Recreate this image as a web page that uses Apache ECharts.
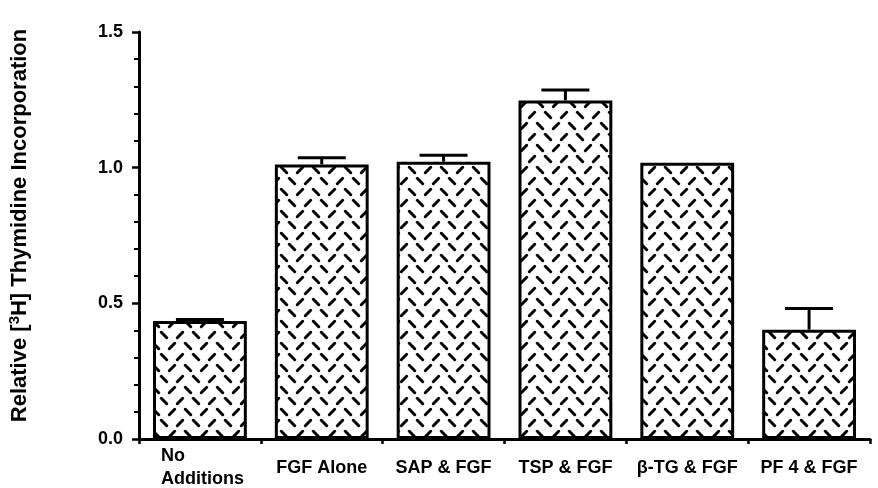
<!DOCTYPE html>
<html><head><meta charset="utf-8">
<script src="https://cdn.jsdelivr.net/npm/echarts@6/dist/echarts.min.js"></script>
<style>html,body{margin:0;padding:0;background:#fff}#c{width:878px;height:488px}</style>
</head><body><div id="c"></div>
<script>
const categories = ['No\nAdditions', 'FGF Alone', 'SAP & FGF', 'TSP & FGF', 'β-TG & FGF', 'PF 4 & FGF'];
const values = [0.435, 1.012, 1.022, 1.248, 1.018, 0.403];
const errors = [0.005, 0.025, 0.024, 0.038, 0, 0.078];
const yTicks = [0.0, 0.5, 1.0, 1.5];

function makePattern() {
  const W = 32, H = 22;
  const c = document.createElement('canvas');
  c.width = W; c.height = H;
  const g = c.getContext('2d');
  g.fillStyle = '#fff'; g.fillRect(0, 0, W, H);
  g.strokeStyle = '#000'; g.lineWidth = 3; g.lineCap = 'round';
  function dash(cx, cy, dir) {
    const d = 2.7;
    for (const ox of [-W, 0, W]) for (const oy of [-H, 0, H]) {
      g.beginPath();
      if (dir > 0) { g.moveTo(cx + ox - d, cy + oy + d); g.lineTo(cx + ox + d, cy + oy - d); }
      else { g.moveTo(cx + ox - d, cy + oy - d); g.lineTo(cx + ox + d, cy + oy + d); }
      g.stroke();
    }
  }
  dash(4, 5, -1);
  dash(20, 5, 1);
  dash(12, 16, 1);
  dash(28, 16, -1);
  return c;
}

const chart = echarts.init(document.getElementById('c'));
const pattern = makePattern();
const FONT = '"Liberation Sans", Arial, sans-serif';

chart.setOption({
  animation: false,
  grid: { left: 139, right: 8, top: 32, bottom: 49, outerBoundsMode: 'none', containLabel: false },
  xAxis: {
    type: 'category',
    data: categories.map((c, i) => i === 0 ? { value: c, textStyle: { align: 'left', padding: [-14, 0, 0, -39], lineHeight: 23, verticalAlign: 'top' } } : c),
    axisLine: { lineStyle: { color: '#000', width: 3 } },
    axisTick: { show: true, length: 5, inside: false, lineStyle: { color: '#000', width: 2.5 } },
    axisLabel: { color: '#000', fontFamily: FONT, fontWeight: 'bold', fontSize: 18, margin: 20, interval: 0 }
  },
  yAxis: {
    type: 'value', min: 0, max: 1.5, interval: 0.5,
    axisLine: { show: true, lineStyle: { color: '#000', width: 3 } },
    axisTick: { show: true, length: 7, lineStyle: { color: '#000', width: 2.5 } },
    minorTick: { show: true, splitNumber: 5, length: 5, lineStyle: { color: '#000', width: 2 } },
    splitLine: { show: false },
    axisLabel: { color: '#000', fontFamily: FONT, fontWeight: 'bold', fontSize: 18, margin: 16,
      formatter: v => { const t = yTicks.find(x => Math.abs(x - v) < 1e-9); return (t === undefined ? v : t).toFixed(1); } },
    name: 'Relative [{s|3}H] Thymidine Incorporation',
    nameLocation: 'middle', nameGap: 107, nameRotate: 90,
    nameTextStyle: { color: '#000', fontFamily: FONT, fontWeight: 'bold', fontSize: 22, padding: [0, 0, 0, 20],
      rich: { s: { fontSize: 15, fontWeight: 'bold', fontFamily: FONT, color: '#000', verticalAlign: 'top', padding: [0, 0, 10, 0] } } }
  },
  series: [
    {
      type: 'bar', data: values, barWidth: '77%',
      itemStyle: { color: { image: pattern, repeat: 'repeat' }, borderColor: '#000', borderWidth: 3 }
    },
    {
      type: 'custom',
      data: values.map((v, i) => [i, v, errors[i]]),
      z: 1,
      renderItem: (params, api) => {
        const e = api.value(2);
        if (!e) return null;
        const top = api.coord([api.value(0), api.value(1) + e]);
        const base = api.coord([api.value(0), api.value(1)]);
        const half = 24;
        const st = { stroke: '#000', lineWidth: 3 };
        return { type: 'group', children: [
          { type: 'line', shape: { x1: base[0], y1: base[1], x2: top[0], y2: top[1] }, style: st },
          { type: 'line', shape: { x1: top[0] - half, y1: top[1], x2: top[0] + half, y2: top[1] }, style: st }
        ] };
      }
    }
  ]
});
</script></body></html>
